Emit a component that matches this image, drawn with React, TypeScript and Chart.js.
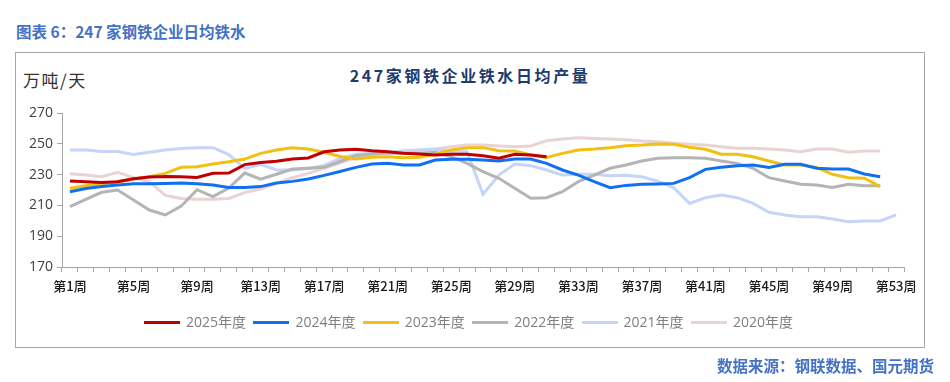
import React, { useEffect, useRef } from "react";
import { Chart, registerables } from "chart.js";

Chart.register(...registerables);

const weeks: string[] = Array.from({ length: 53 }, (_, i) => `第${i + 1}周`);

const seriesNames = ["2025年度", "2024年度", "2023年度", "2022年度", "2021年度", "2020年度"];
const seriesColors = ["#C00000", "#1170F0", "#F2C010", "#B4B4B4", "#C5D4F7", "#EAD3D3"];

const y2025 = [225.8, 225.3, 224.9, 225.3, 227.3, 228.5, 228.7, 228.6, 228.1, 230.9, 231.0, 236.5, 237.8, 238.7, 240.2, 240.8, 244.8, 246.0, 246.4, 245.5, 244.9, 243.8, 243.4, 242.7, 243.2, 243.2, 242.2, 240.6, 243.2, 242.7, 241.6];
const y2024 = [218.9, 221.0, 222.2, 223.2, 224.0, 224.1, 224.3, 224.6, 224.0, 223.2, 221.7, 221.7, 222.2, 224.6, 225.6, 227.2, 229.5, 232.0, 234.7, 236.9, 237.3, 236.2, 236.2, 239.5, 239.9, 239.9, 239.5, 238.8, 240.1, 240.1, 237.3, 233.0, 229.7, 225.4, 221.5, 223.0, 223.7, 223.9, 224.3, 228.0, 233.4, 234.7, 235.8, 236.2, 234.7, 236.7, 236.7, 234.1, 233.6, 233.6, 230.4, 228.6];
const y2023 = [221.1, 222.8, 223.9, 225.4, 227.1, 228.6, 230.8, 234.7, 235.1, 236.9, 238.4, 240.1, 243.8, 246.0, 247.5, 246.6, 244.5, 241.8, 240.1, 241.2, 241.6, 241.0, 241.2, 243.2, 246.0, 247.5, 247.5, 245.5, 245.3, 242.7, 241.2, 243.8, 246.0, 246.6, 247.5, 248.8, 249.2, 249.9, 249.7, 247.7, 246.4, 243.2, 243.2, 241.6, 238.8, 236.2, 236.2, 234.7, 230.2, 228.0, 227.6, 222.2];
const y2022 = [209.2, 213.9, 218.5, 220.0, 213.5, 207.0, 203.8, 209.5, 220.2, 215.7, 221.3, 231.0, 227.0, 230.2, 233.6, 234.1, 234.7, 238.5, 242.3, 243.4, 243.8, 243.8, 243.8, 244.5, 241.6, 237.3, 231.9, 227.6, 221.1, 214.6, 215.0, 218.9, 225.4, 229.7, 234.1, 236.2, 238.8, 240.6, 241.0, 241.0, 240.6, 238.8, 237.3, 234.1, 228.0, 225.8, 223.7, 223.2, 221.7, 223.7, 222.8, 222.8];
const y2021 = [246.0, 246.0, 245.0, 245.0, 243.0, 244.5, 246.0, 247.0, 247.5, 247.5, 243.0, 234.0, 236.6, 233.0, 233.0, 234.0, 236.0, 240.5, 243.2, 243.8, 244.5, 244.9, 246.0, 246.6, 244.9, 244.9, 217.2, 229.7, 236.9, 235.8, 233.0, 229.7, 230.2, 230.2, 229.3, 229.5, 228.6, 225.8, 221.5, 211.3, 215.0, 216.7, 215.0, 211.3, 205.5, 203.8, 202.7, 202.7, 201.2, 199.4, 199.9, 199.9, 203.8];
const y2020 = [230.5, 229.7, 228.6, 231.5, 228.0, 225.4, 216.5, 214.5, 214.0, 214.0, 214.5, 218.3, 220.6, 224.3, 228.0, 230.8, 234.1, 237.5, 241.0, 242.7, 244.5, 245.5, 246.0, 246.6, 248.1, 249.2, 249.2, 248.6, 248.1, 248.6, 252.0, 253.1, 254.0, 253.5, 253.1, 252.6, 251.8, 251.4, 250.3, 249.7, 249.2, 248.1, 247.1, 247.1, 246.6, 246.0, 244.9, 246.6, 246.6, 244.5, 245.3, 245.3];

const seriesValues = [y2025, y2024, y2023, y2022, y2021, y2020];

const yMin = 170;
const yMax = 270;
const yStep = 20;

const cjk = "'Noto Sans CJK SC', 'Noto Sans', sans-serif";

export default function App() {
  const ref = useRef<HTMLCanvasElement | null>(null);

  useEffect(() => {
    if (!ref.current) return;
    const chart = new Chart(ref.current, {
      type: "line",
      data: {
        labels: weeks,
        datasets: seriesNames.map((name, i) => ({
          label: name,
          data: seriesValues[i],
          borderColor: seriesColors[i],
          backgroundColor: seriesColors[i],
          borderWidth: 3,
          pointRadius: 0,
          pointHoverRadius: 0,
          tension: 0,
          fill: false,
        })),
      },
      options: {
        animation: false,
        responsive: false,
        devicePixelRatio: 1,
        layout: { padding: { left: 22, right: 46, top: 113, bottom: 85 } },
        plugins: {
          legend: { display: false },
          title: { display: false },
          tooltip: { enabled: false },
        },
        scales: {
          x: {
            type: "category",
            offset: true,
            afterFit: (scale: any) => {
              scale.height = 30;
            },
            grid: {
              display: true,
              drawOnChartArea: false,
              drawTicks: true,
              tickLength: 5,
              offset: true,
              color: "#A6A6A6",
            },
            border: { display: true, color: "#A6A6A6", width: 1 },
            ticks: {
              autoSkip: false,
              maxRotation: 0,
              minRotation: 0,
              padding: 6,
              color: "#1a1a1a",
              font: { family: cjk, size: 13, weight: "500" },
              callback: (_v: any, idx: number) => (idx % 4 === 0 ? weeks[idx] : ""),
            },
          },
          y: {
            min: yMin,
            max: yMax,
            afterFit: (scale: any) => {
              scale.width = 40;
            },
            grid: {
              display: true,
              drawOnChartArea: false,
              drawTicks: true,
              tickLength: 5,
              color: "#A6A6A6",
            },
            border: { display: true, color: "#A6A6A6", width: 1 },
            ticks: {
              stepSize: yStep,
              padding: 4,
              color: "#404040",
              font: { family: "'Open Sans', sans-serif", size: 14 },
            },
          },
        },
      },
    });
    return () => chart.destroy();
  }, []);

  return (
    <div
      style={{
        position: "absolute",
        left: 0,
        top: 0,
        width: 950,
        height: 382,
        background: "#fff",
        overflow: "hidden",
        fontFamily: cjk,
      }}
    >
      <div
        style={{
          position: "absolute",
          left: 16,
          top: 21,
          lineHeight: "20px",
          fontSize: 15.5,
          fontWeight: 700,
          color: "#4472C4",
          whiteSpace: "nowrap",
        }}
      >
        图表 6：247 家钢铁企业日均铁水
      </div>
      <div
        style={{
          position: "absolute",
          left: 15,
          top: 52,
          width: 910,
          height: 296,
          border: "1px solid #A6A6A6",
          boxSizing: "border-box",
        }}
      />
      <div
        style={{
          position: "absolute",
          left: 270,
          width: 400,
          top: 65,
          textAlign: "center",
          lineHeight: "20px",
          fontSize: 16,
          fontWeight: 700,
          letterSpacing: 2.6,
          color: "#1F3A6E",
          whiteSpace: "nowrap",
        }}
      >
        247家钢铁企业铁水日均产量
      </div>
      <div
        style={{
          position: "absolute",
          left: 23,
          top: 70,
          lineHeight: "20px",
          fontSize: 17,
          letterSpacing: 1.5,
          color: "#333",
          whiteSpace: "nowrap",
        }}
      >
        万吨/天
      </div>
      <canvas
        ref={ref}
        width={950}
        height={382}
        style={{ position: "absolute", left: 0, top: 0, width: 950, height: 382 }}
      />
      <div
        style={{
          position: "absolute",
          left: 144,
          top: 312,
          height: 20,
          display: "flex",
          alignItems: "center",
        }}
      >
        {seriesNames.map((name, i) => (
          <div
            key={name}
            style={{ width: 109.4, display: "flex", alignItems: "center", whiteSpace: "nowrap" }}
          >
            <span
              style={{
                display: "inline-block",
                width: 36,
                height: 3,
                background: seriesColors[i],
                marginRight: 6,
              }}
            />
            <span
              style={{
                fontSize: 14,
                lineHeight: "20px",
                color: "#7F7F7F",
                fontFamily: "'Open Sans', 'Noto Sans CJK SC', sans-serif",
              }}
            >
              {name}
            </span>
          </div>
        ))}
      </div>
      <div
        style={{
          position: "absolute",
          right: 16,
          top: 355,
          lineHeight: "20px",
          fontSize: 15.5,
          fontWeight: 700,
          color: "#4472C4",
          whiteSpace: "nowrap",
        }}
      >
        数据来源：钢联数据、国元期货
      </div>
    </div>
  );
}
